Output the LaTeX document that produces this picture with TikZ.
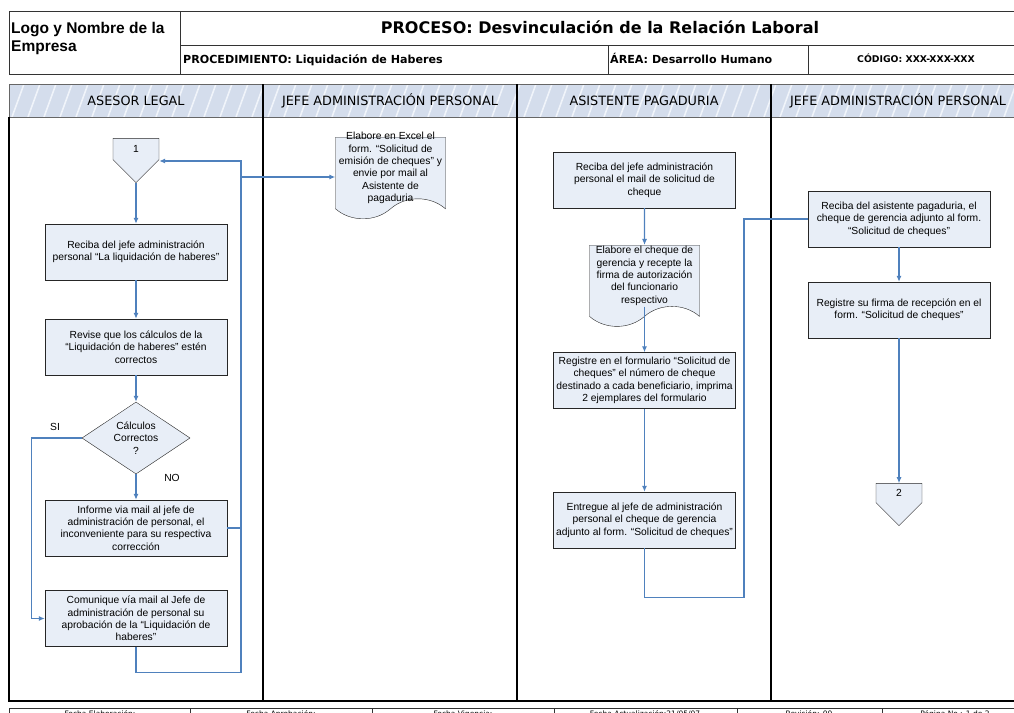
\documentclass[tikz,border=0pt]{standalone}
\usepackage{fontspec}
\setmainfont{Liberation Sans}
\newfontfamily\tahoma{DejaVu Sans}
\usetikzlibrary{shapes.geometric,shapes.symbols,arrows.meta,calc}
\definecolor{boxblue}{RGB}{232,238,247}
\definecolor{flowblue}{RGB}{79,129,189}
\definecolor{lanehead}{RGB}{212,221,236}
\definecolor{hatchcol}{RGB}{240,244,250}
\newcommand{\boxfont}{\fontsize{10.3}{12.4}\selectfont}
\tikzset{
  actbox/.style={draw=black!85, fill=boxblue, minimum width=182pt, minimum height=56pt,
    align=center, inner sep=1pt, font=\boxfont},
  docbox/.style={tape, tape bend top=none, tape bend bottom=in and out, tape bend height=20pt,
    draw=black!85, fill=boxblue, minimum width=110pt, align=center, inner sep=1pt, font=\boxfont},
  decbox/.style={diamond, aspect=1.5, draw=black!85, fill=boxblue, minimum width=108pt,
    minimum height=72pt, inner sep=0pt, align=center, font=\boxfont},
  offpg/.style={signal, signal to=south, signal from=nowhere, draw=black!85, fill=boxblue,
    minimum width=46pt, minimum height=24pt, inner sep=0pt, font=\boxfont},
  flow/.style={draw=flowblue, line width=1.1pt, -{Latex[length=6pt,width=5pt]}},
  link/.style={draw=flowblue, line width=1.1pt},
  lbl/.style={font=\boxfont, inner sep=0pt},
  lanetxt/.style={font=\tahoma\fontsize{12.8}{15}\selectfont, inner sep=0pt, anchor=base},
  foot/.style={font=\tahoma\fontsize{7.5}{9}\selectfont, inner sep=0pt, anchor=base}
}
\begin{document}
\begin{tikzpicture}[x=1pt,y=-1pt]
\useasboundingbox (0,0) rectangle (1014,712);
% encabezado
\draw[line width=1pt, black!80] (9,11) rectangle (1030,74);
\draw[line width=1pt, black!80] (180,11) -- (180,74) (180,45) -- (1030,45)
  (608,45) -- (608,74) (808,45) -- (808,74);
\node[anchor=north west, align=left, inner sep=0pt,
  font=\bfseries\fontsize{15.5}{18}\selectfont] (logo) at (11,22) {Logo y Nombre de la\\Empresa};
\node[anchor=base, inner sep=0pt, font=\tahoma\bfseries\fontsize{16}{19}\selectfont] (titulo)
  at (600,33) {PROCESO: Desvinculación de la Relación Laboral};
\node[anchor=base west, inner sep=0pt, font=\tahoma\bfseries\fontsize{11.1}{13}\selectfont] (proc)
  at (183,63) {PROCEDIMIENTO: Liquidación de Haberes};
\node[anchor=base west, inner sep=0pt, font=\tahoma\bfseries\fontsize{11.1}{13}\selectfont] (area)
  at (610,63) {ÁREA: Desarrollo Humano};
\node[anchor=base, inner sep=0pt, font=\tahoma\bfseries\fontsize{9.3}{11}\selectfont] (codigo)
  at (916,62) {CÓDIGO: XXX-XXX-XXX};
% carriles
\fill[lanehead] (9,84) rectangle (1025,117);
\begin{scope}
  \clip (9,84) rectangle (1025,117);
  \foreach \x in {-20,-4,...,1040}
    \draw[hatchcol, line width=1.6pt] (\x,117) -- (\x+12,84);
\end{scope}
\draw[black!60, line width=1pt] (9,84) rectangle (1025,117);
\draw[line width=1.3pt] (9,117) -- (9,701) -- (1025,701);
\foreach \x in {263,517,771}
  \draw[line width=1.3pt] (\x,84) -- (\x,701);
\node[lanetxt] (l1) at (136,105) {ASESOR LEGAL};
\node[lanetxt] (l2) at (390,105) {JEFE ADMINISTRACIÓN PERSONAL};
\node[lanetxt] (l3) at (644,105) {ASISTENTE PAGADURIA};
\node[lanetxt] (l4) at (898,105) {JEFE ADMINISTRACIÓN PERSONAL};
% pie
\draw[black!80, line width=1pt] (9,708) rectangle (1025,730);
\foreach \x in {190,372,554,737,882}
  \draw[black!80, line width=1pt] (\x,708) -- (\x,730);
\node[foot] (f1) at (100,716) {Fecha Elaboración:};
\node[foot] (f2) at (281,716) {Fecha Aprobación:};
\node[foot] (f3) at (463,716) {Fecha Vigencia:};
\node[foot] (f4) at (645,716) {Fecha Actualización:21/05/07};
\node[foot] (f5) at (809,716) {Revisión: 00};
\node[foot] (f6) at (955,716) {Página No.: 1 de 2};
% asesor legal
\node[offpg] (p1) at (136,149) {1};
\node[actbox] (a1) at (136,252) {Reciba del jefe administración\\personal “La liquidación de haberes”};
\node[actbox] (a2) at (136,347) {Revise que los cálculos de la\\“Liquidación de haberes” estén\\correctos};
\node[decbox] (dec) at (136,438) {Cálculos\\Correctos\\?};
\node[actbox] (a3) at (136,528) {Informe via mail al jefe de\\administración de personal, el\\inconveniente para su respectiva\\corrección};
\node[actbox] (a4) at (136,618.5) {Comunique vía mail al Jefe de\\administración de personal su\\aprobación de la “Liquidación de\\haberes”};
\node[lbl] (si) at (55,427) {SI};
\node[lbl] (no) at (172,478) {NO};
% jefe administracion personal
\node[docbox, anchor=north, inner ysep=-5pt] (b1) at (390.5,137) {Elabore en Excel el\\form. “Solicitud de\\emisión de cheques” y\\envie por mail al\\Asistente de\\pagaduria};
% asistente pagaduria
\node[actbox] (c1) at (644.5,180) {Reciba del jefe administración\\personal el mail de solicitud de\\cheque};
\node[docbox, anchor=north] (c2) at (644.5,245) {Elabore el cheque de\\gerencia y recepte la\\firma de autorización\\del funcionario\\respectivo};
\node[actbox] (c3) at (644.5,380.5) {Registre en el formulario “Solicitud de\\cheques” el número de cheque\\destinado a cada beneficiario, imprima\\2 ejemplares del formulario};
\node[actbox] (c4) at (644.5,520) {Entregue al jefe de administración\\personal el cheque de gerencia\\adjunto al form. “Solicitud de cheques”};
% jefe administracion personal
\node[actbox] (d1) at (899,219) {Reciba del asistente pagaduria, el\\cheque de gerencia adjunto al form.\\“Solicitud de cheques”};
\node[actbox] (d2) at (899,310) {Registre su firma de recepción en el\\form. “Solicitud de cheques”};
\node[offpg, minimum height=22pt] (p2) at (899,493) {2};
% conectores
\draw[flow] (p1.south) -- (a1);
\draw[flow] (a1) -- (a2);
\draw[flow] (a2) -- (dec);
\draw[flow] (dec) -- (a3);
\draw[flow] (dec.west) -- ++(-50,0) |- (a4.west);
\draw[flow] (a3.east) -- ++(14,0) |- ($(b1.north west)+(0,40)$);
\draw[flow] (a4.south) -- ++(0,26) -- ++(105,0) |- ($(p1.east)+(0,12)$);
\draw[link] ($(b1.north east)+(0,40)$) -- ($(b1.north east)+(0,40)$ -| c1.west);
\draw[flow] (c1) -- (c2);
\draw[flow] (c2.south) -- (c3);
\draw[flow] (c3) -- (c4);
\draw[link] (c4.south) -- ++(0,49) -- ++(99.5,0) |- (d1.west);
\draw[flow] (d1) -- (d2);
\draw[flow] (d2) -- (p2.north);
\end{tikzpicture}
\end{document}
